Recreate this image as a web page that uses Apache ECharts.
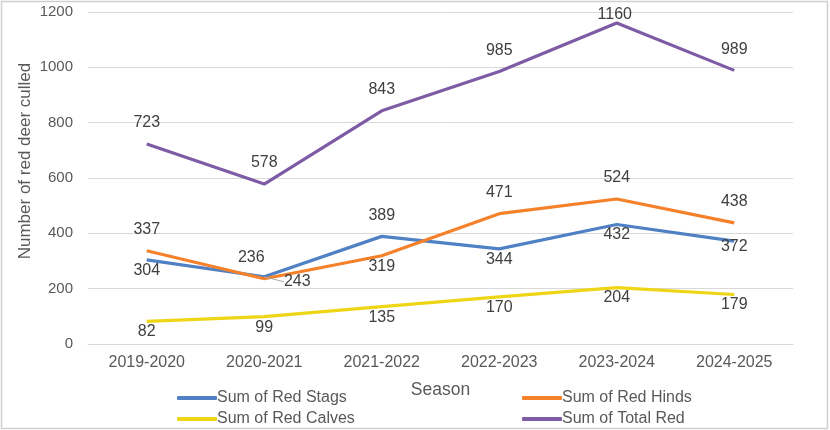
<!DOCTYPE html>
<html>
<head>
<meta charset="utf-8">
<script src="https://cdn.jsdelivr.net/npm/echarts@6/dist/echarts.min.js"></script>
<style>
  body { margin: 0; background: #fff; }
  #chart { width: 830px; height: 430px; }
</style>
</head>
<body>
<div id="chart"></div>
<script>
const seasons = ["2019-2020", "2020-2021", "2021-2022", "2022-2023", "2023-2024", "2024-2025"];
const stags = [304, 243, 389, 344, 432, 372];
const hinds = [337, 236, 319, 471, 524, 438];
const calves = [82, 99, 135, 170, 204, 179];
const total = [723, 578, 843, 985, 1160, 989];
const yTicks = [0, 200, 400, 600, 800, 1000, 1200];

// where each data label sits (Excel-ish placement)
const stagsPos = ["bottom", "leader", "top", "bottom", "bottom", "bottomRight"];
const hindsPos = ["top", "topLeft", "bottom", "top", "top", "top"];
const calvesPos = ["bottom", "bottom", "bottom", "bottom", "bottom", "bottom"];
const totalPos = ["top", "top", "top", "top", "topNear", "top"];

const textColor = "#404040";
const axisColor = "#595959";
const font = "Liberation Sans, Arial, sans-serif";

function labelFor(pos) {
  if (pos === "top") return { position: "top", distance: 13 };
  if (pos === "topNear") return { position: "top", distance: 0, offset: [-2, 0] };
  if (pos === "topLeft") return { position: "top", distance: 13, offset: [-13, 0] };
  if (pos === "bottomRight") return { position: "bottom", distance: -2, offset: [7, 0] };
  if (pos === "leader") return { position: "bottom", distance: -3 };
  return { position: "bottom", distance: 2.5 };
}

function mkData(vals, positions) {
  return vals.map((v, i) => ({ value: v, label: Object.assign({ show: true }, labelFor(positions[i])) }));
}

function lineSeries(name, color, data) {
  return {
    name: name,
    type: "line",
    data: data,
    symbol: "circle",
    symbolSize: 0,
    showSymbol: true,
    lineStyle: { color: color, width: 3.2 },
    itemStyle: { color: color },
    label: { show: true, color: textColor, fontSize: 16, fontFamily: font },
    emphasis: { disabled: true },
    animation: false,
  };
}

const stagsSeries = lineSeries("Sum of Red Stags", "#4F81C4", mkData(stags, stagsPos));
// the 243 label is pushed aside with a small leader line
stagsSeries.data[1].labelLine = { show: true, lineStyle: { color: "#a6a6a6", width: 1 } };
stagsSeries.labelLayout = function (params) {
  if (params.dataIndex === 1) return { dx: 33 };
  return {};
};

const chart = echarts.init(document.getElementById("chart"));
const legendBase = {
  icon: "roundRect",
  itemWidth: 40,
  itemHeight: 4,
  itemGap: 0,
  textStyle: { color: axisColor, fontSize: 16, fontFamily: font, padding: [0, 0, 0, -5] },
  padding: 0,
};
chart.setOption({
  backgroundColor: "#fff",
  grid: { left: 88, right: 37, top: 12, bottom: 86 },
  legend: [
    Object.assign({}, legendBase, { data: ["Sum of Red Stags"], left: 177, top: 390 }),
    Object.assign({}, legendBase, { data: ["Sum of Red Hinds"], left: 522, top: 390 }),
    Object.assign({}, legendBase, { data: ["Sum of Red Calves"], left: 177, top: 411 }),
    Object.assign({}, legendBase, { data: ["Sum of Total Red"], left: 522, top: 411 }),
  ],
  xAxis: {
    type: "category",
    data: seasons,
    boundaryGap: true,
    axisLine: { lineStyle: { color: "#d9d9d9", width: 1 } },
    axisTick: { show: false },
    axisLabel: { color: axisColor, fontSize: 16, fontFamily: font, margin: 11 },
    name: "Season",
    nameLocation: "middle",
    nameGap: 37,
    nameTextStyle: { color: axisColor, fontSize: 17.5, fontFamily: font },
  },
  yAxis: {
    type: "value",
    min: yTicks[0],
    max: yTicks[yTicks.length - 1],
    interval: 200,
    axisLine: { show: false },
    axisTick: { show: false },
    splitLine: { lineStyle: { color: "#d9d9d9", width: 1 } },
    axisLabel: { color: axisColor, fontSize: 15, fontFamily: font, margin: 15, formatter: (v) => String(v) },
    name: "Number of red deer culled",
    nameLocation: "middle",
    nameGap: 54,
    nameMoveOverlap: false,
    nameTextStyle: { color: axisColor, fontSize: 17, fontFamily: font, padding: [0, 0, 0, 34] },
  },
  series: [
    stagsSeries,
    lineSeries("Sum of Red Hinds", "#F5812A", mkData(hinds, hindsPos)),
    lineSeries("Sum of Red Calves", "#EED617", mkData(calves, calvesPos)),
    lineSeries("Sum of Total Red", "#7E5BA5", mkData(total, totalPos)),
  ],
  graphic: [{
    type: "rect",
    shape: { x: 1.5, y: 1.5, width: 826, height: 427 },
    style: { fill: "none", stroke: "#cfcfcf", lineWidth: 1.5 },
    silent: true,
  }],
});
</script>
</body>
</html>
